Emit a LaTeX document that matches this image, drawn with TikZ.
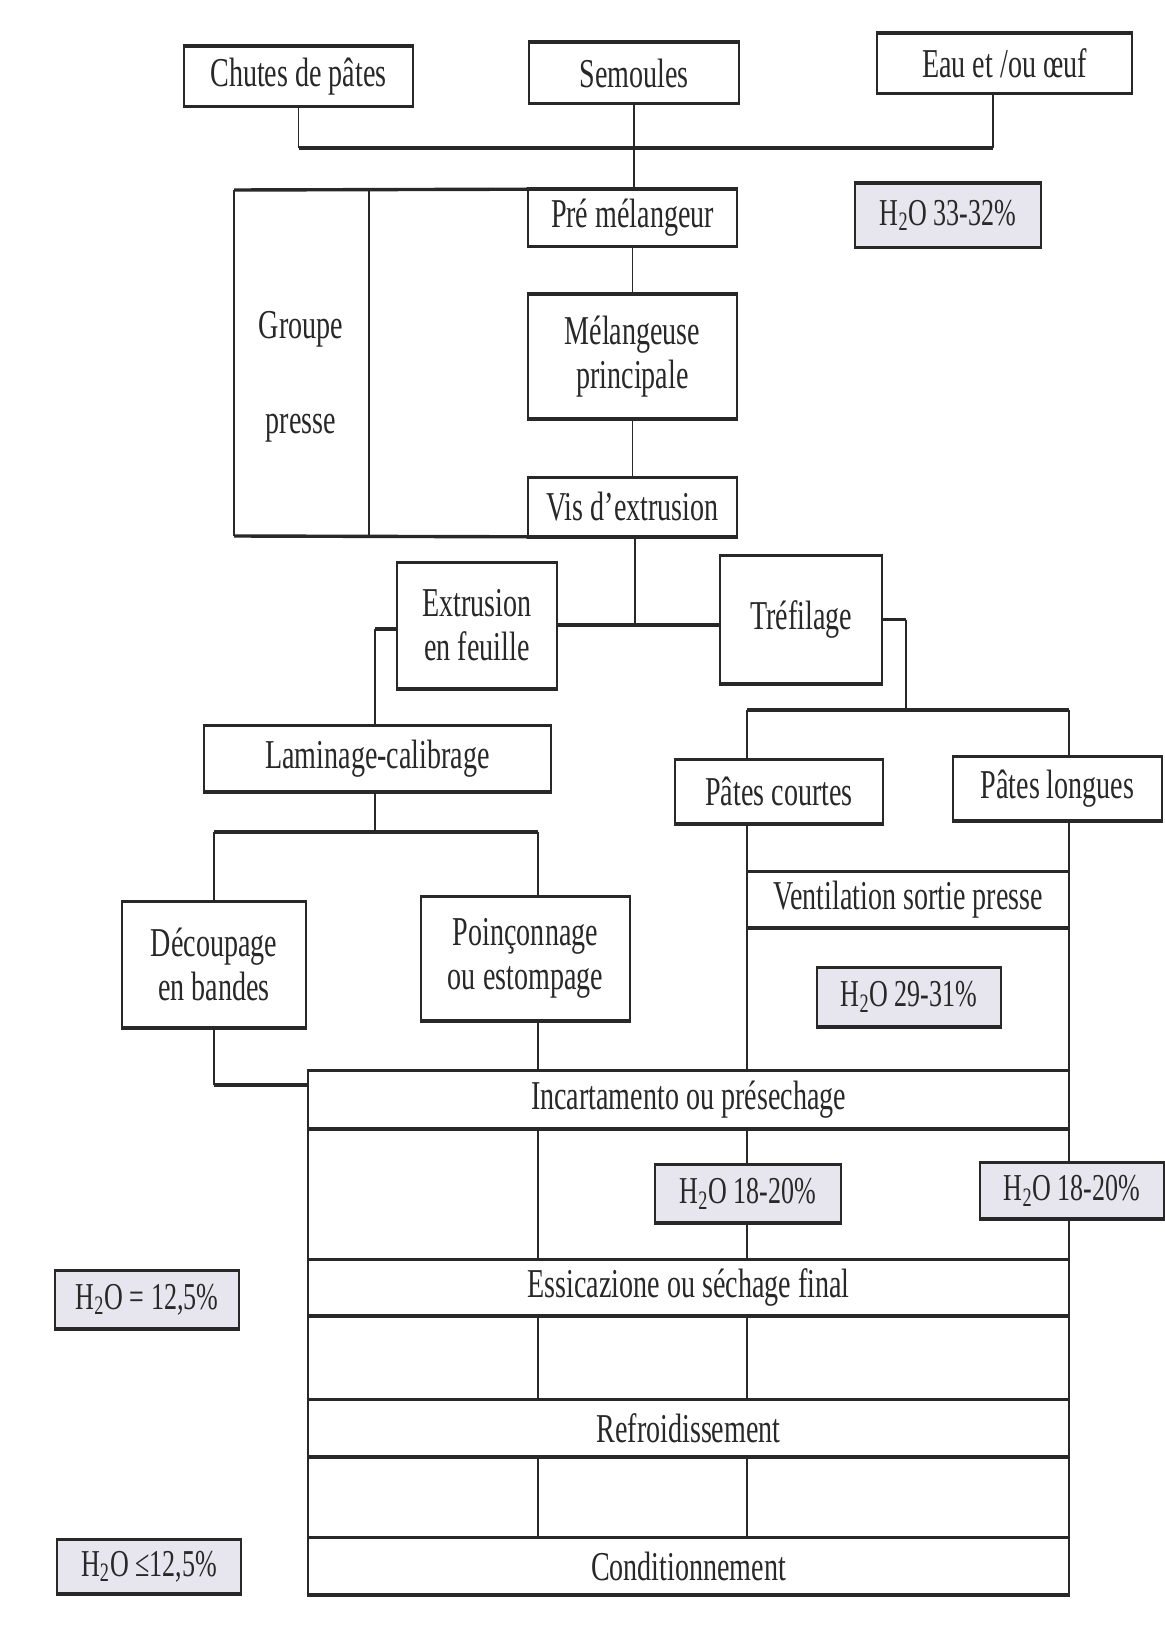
\documentclass[tikz,border=0pt]{standalone}
\usepackage{fontspec}
\setmainfont{Liberation Serif}[FakeStretch=0.685]
\definecolor{ink}{RGB}{40,40,40}
\definecolor{tint}{RGB}{231,229,238}
\tikzset{
  stage/.style 2 args={draw=ink, line width=0.8pt, fill=white, inner sep=0pt,
    minimum width=#1*0.5pt, minimum height=#2*0.5pt, align=center, text=ink,
    font=\fontsize{20.5}{22}\selectfont},
  moist/.style 2 args={stage={#1}{#2}, fill=tint, font=\fontsize{19}{21}\selectfont},
  caption/.style={inner sep=0pt, align=center, text=ink, font=\fontsize{20.5}{22}\selectfont},
  wire/.style={draw=ink, line width=0.8pt},
  bar/.style={draw=ink, line width=1.7pt},
}
\begin{document}
\begin{tikzpicture}[x=0.5pt,y=-0.5pt]
\fill[white] (0,0) rectangle (1164,1631);
\useasboundingbox (0,0) rectangle (1164,1631);

% vertical guide columns of the lower processing block
\coordinate (colL) at (308,0);
\coordinate (colA) at (538,0);
\coordinate (colB) at (747,0);
\coordinate (colR) at (1069,0);

% raw materials
\node[stage={229}{59}] (chutes) at (298.5,76.5) {Chutes de pâtes};
\node[stage={210}{60}] (semoules) at (634,73) {Semoules};
\node[stage={255}{59}] (eau) at (1004.5,63.5) {Eau et /ou œuf};

% press group
\node[stage={209}{56}] (pre) at (632.5,218) {Pré mélangeur};
\node[stage={209}{123}] (mel) at (632.5,356.5) {Mélangeuse\\principale};
\node[stage={209}{58}] (vis) at (632.5,507) {Vis d’extrusion};
\node[caption] (grp) at (301,377) {Groupe\\[25.5pt]presse};
\node[moist={186}{63}] (h2oA) at (948,215.5) {H\textsubscript{2}O 33-32\%};

% shaping
\node[stage={160}{125}] (extr) at (477,625.5) {Extrusion\\en feuille};
\node[stage={162}{127}] (tref) at (801,619.5) {Tréfilage};
\node[stage={347}{65}] (lam) at (377.5,758.5) {Laminage-calibrage};
\node[stage={208}{63}] (pc) at (779,791.5) {Pâtes courtes};
\node[stage={209}{63}] (pl) at (1057.5,788.5) {Pâtes longues};
\node[stage={322}{55}] (vent) at (908,899.5) {Ventilation sortie presse};
\node[moist={184}{58}] (h2oB) at (909,997) {H\textsubscript{2}O 29-31\%};
\node[stage={184}{125}] (dec) at (214,964.5) {Découpage\\en bandes};
\node[stage={209}{123}] (poin) at (525.5,958.5) {Poinçonnage\\ou estompage};

% drying and packing
\node[stage={761}{57}] (inc) at (688.5,1099.5) {Incartamento ou présechage};
\node[stage={761}{55}] (ess) at (688.5,1287.5) {Essicazione ou séchage final};
\node[stage={761}{56}] (ref) at (688.5,1428) {Refroidissement};
\node[stage={761}{56}] (cond) at (688.5,1566) {Conditionnement};

% feed lines
\coordinate (topbus) at (993,148);
\draw[wire] (chutes.south) -- (chutes.south |- topbus);
\draw[wire] (eau.south -| topbus) -- (topbus);
\draw[bar] (chutes.south |- topbus) -- (topbus);
\draw[wire] (semoules.south) -- (semoules.south |- pre.north);
\draw[wire] (pre.south) -- (mel.north);
\draw[wire] (mel.south) -- (vis.north);

% frame of the press group
\draw[bar] (pre.north west) -- (234,190);
\draw[bar] (vis.south west) -- (234,536);
\draw[wire] (234,190) -- (234,536);
\draw[wire] (369,190) -- (369,536);

% split after extrusion
\coordinate (j1) at (635,625);
\draw[wire] (vis.south -| j1) -- (j1);
\draw[bar] (extr.east |- j1) -- (tref.west |- j1);
\coordinate (elbowL) at (375,629);
\draw[bar] (extr.west |- elbowL) -- (elbowL);
\draw[wire] (elbowL) -- (elbowL |- lam.north);
\coordinate (elbowR) at (906,619.5);
\draw[bar] (tref.east) -- (elbowR);
\coordinate (busR) at (906,710);
\draw[wire] (elbowR) -- (busR);
\draw[bar] (colB |- busR) -- (colR |- busR);
\draw[wire] (colB |- busR) -- (colB |- pc.north);
\draw[wire] (colR |- busR) -- (colR |- pl.north);
\draw[wire] (colB |- pc.south) -- (colB |- vent.north);
\draw[wire] (colR |- pl.south) -- (colR |- vent.north);
\draw[wire] (colB |- vent.south) -- (colB |- inc.north);
\draw[wire] (colR |- vent.south) -- (colR |- inc.north);

% sheet branch
\coordinate (busL) at (375,832);
\draw[wire] (lam.south -| busL) -- (busL);
\draw[bar] (dec.north |- busL) -- (colA |- busL);
\draw[wire] (dec.north |- busL) -- (dec.north);
\draw[wire] (colA |- busL) -- (colA |- poin.north);
\coordinate (feedL) at (214,1085);
\draw[wire] (dec.south) -- (dec.south |- feedL);
\draw[bar] (dec.south |- feedL) -- (colL |- feedL);
\draw[wire] (colA |- poin.south) -- (colA |- inc.north);

% links between the drying bands
\foreach \a/\b in {inc/ess,ess/ref,ref/cond}
  \foreach \c in {colL,colA,colB,colR}
    \draw[wire] (\c |- \a.south) -- (\c |- \b.north);

% moisture labels
\node[moist={186}{57}] (h2oC) at (748,1193.5) {H\textsubscript{2}O 18-20\%};
\node[moist={184}{55}] (h2oD) at (1072,1190.5) {H\textsubscript{2}O 18-20\%};
\node[moist={184}{57}] (h2oE) at (147,1299.5) {H\textsubscript{2}O = 12,5\%};
\node[moist={184}{53}] (h2oF) at (149,1566.5) {H\textsubscript{2}O ≤12,5\%};

% heavier top and bottom rules of every box
\foreach \n in {chutes,semoules,eau,pre,mel,vis,extr,tref,lam,pc,pl,vent,dec,poin,
                inc,ess,ref,cond,h2oA,h2oB,h2oC,h2oD,h2oE,h2oF}
  \draw[bar] (\n.north west) -- (\n.north east) (\n.south west) -- (\n.south east);
\end{tikzpicture}
\end{document}
